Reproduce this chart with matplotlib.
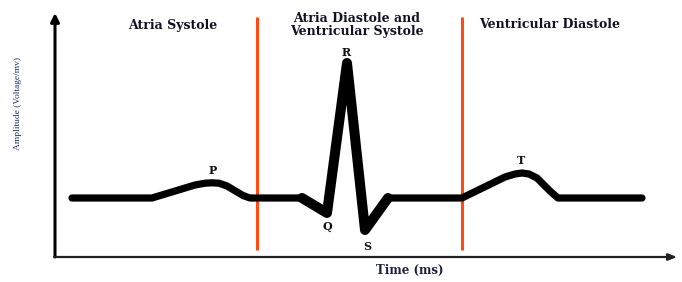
import matplotlib
matplotlib.use("Agg")
import matplotlib.pyplot as plt
import numpy as np

# ECG trace (time in ms-like units, amplitude in mV-like units)
time_ms = [17, 97, 140, 150, 157, 164, 172, 188, 195,
           247, 272, 292, 310, 333,
           407, 450, 460, 467, 474, 482, 496, 503, 587]
amplitude = [0.0, 0.0, 0.13, 0.148, 0.152, 0.148, 0.12, 0.025, 0.0,
             0.0, -0.15, 1.35, -0.32, 0.0,
             0.0, 0.21, 0.24, 0.25, 0.24, 0.20, 0.06, 0.0, 0.0]
qrs_start, qrs_end = 9, 14   # index range of the QRS complex

phase_bounds = [202, 407]
phase_labels = ["Atria Systole", "Atria Diastole and\nVentricular Systole", "Ventricular Diastole"]
phase_label_x = [118, 302, 495]

wave_names = ["P", "Q", "R", "S", "T"]
wave_x = [158, 272, 291, 312, 466]
wave_y = [0.28, -0.29, 1.46, -0.48, 0.38]

fig = plt.figure(figsize=(6.82, 2.82), dpi=100)
ax = fig.add_axes([55/682, 25/282, 623/682, 242/282])
ax.set_xlim(0, 623)
ax.set_ylim(-0.59, 1.83)
for s in ax.spines.values():
    s.set_visible(False)
ax.set_xticks([])
ax.set_yticks([])

# axes with arrows
ax.annotate("", xy=(0, 1.85), xytext=(0, -0.59),
            arrowprops=dict(arrowstyle="-|>,head_length=0.5,head_width=0.25", lw=2.2, color="black", shrinkA=0, shrinkB=0),
            annotation_clip=False)
ax.annotate("", xy=(622, -0.59), xytext=(-1, -0.59),
            arrowprops=dict(arrowstyle="-|>,head_length=0.5,head_width=0.2", lw=1.6, color="#222222", shrinkA=0, shrinkB=0),
            annotation_clip=False)

for b in phase_bounds:
    ax.plot([b, b], [-0.52, 1.81], color="#ff4a14", lw=2.2, solid_capstyle="butt")

ax.plot(time_ms, amplitude, color="black", lw=5.2, solid_capstyle="round", solid_joinstyle="round", zorder=3)
ax.plot(time_ms[qrs_start:qrs_end], amplitude[qrs_start:qrs_end], color="black", lw=7.2,
        solid_capstyle="round", solid_joinstyle="round", zorder=4)

serif = ["DejaVu Serif"]
for lbl, lx in zip(phase_labels, phase_label_x):
    ax.text(lx, 1.73, lbl, ha="center", va="center", fontsize=9, fontweight="bold",
            family=serif, color="#111122", linespacing=0.9)

for n, x, y in zip(wave_names, wave_x, wave_y):
    ax.text(x, y, n, ha="center", va="center", fontsize=8, fontweight="bold", family=serif, color="#111111")

fig.text(410/682, 1 - 270/282, "Time (ms)", ha="center", va="center", fontsize=8.5,
         fontweight="bold", family=serif, color="#1a1f3d")
fig.text(18/682, 1 - 104/282, "Amplitude (Voltage/mv)", ha="center", va="center", fontsize=6.8,
         rotation=90, family=["Liberation Serif"], color="#1c3270")

fig.savefig("out.png", dpi=100)
